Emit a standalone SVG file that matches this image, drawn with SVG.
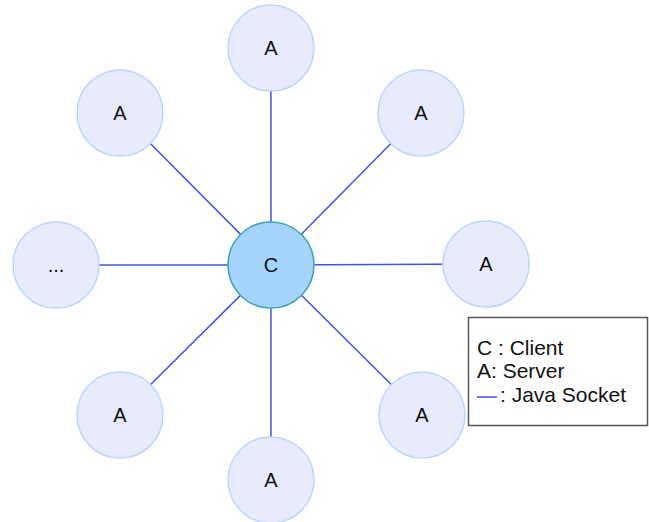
<svg xmlns="http://www.w3.org/2000/svg" width="649" height="522" viewBox="0 0 649 522">
<style>
.conn{stroke:#3a55ee;stroke-width:1.5;fill:none}
.outer{fill:#e8ebfc;stroke:#bcd6fb;stroke-width:1.5}
.center{fill:#a6d3fb;stroke:#3aa6ad;stroke-width:1.5}
.lbl{font-family:"Liberation Sans",Arial,sans-serif;font-size:20px;fill:#111;text-anchor:middle}
.leg{font-family:"Liberation Sans",Arial,sans-serif;font-size:21px;fill:#111}
</style>
<rect width="649" height="522" fill="#fff"/>
<g id="connectors">
<line class="conn" x1="271" y1="265" x2="271" y2="48"/>
<line class="conn" x1="271" y1="265" x2="120" y2="113"/>
<line class="conn" x1="271" y1="265" x2="421" y2="113"/>
<line class="conn" x1="271" y1="265" x2="56" y2="265"/>
<line class="conn" x1="271" y1="265" x2="486" y2="264"/>
<line class="conn" x1="271" y1="265" x2="120" y2="415"/>
<line class="conn" x1="271" y1="265" x2="422" y2="415"/>
<line class="conn" x1="271" y1="265" x2="271" y2="480"/>
</g>
<g id="node-top"><circle class="outer" cx="271" cy="48" r="43"/><text class="lbl" x="271" y="55">A</text></g>
<g id="node-topleft"><circle class="outer" cx="120" cy="113" r="43"/><text class="lbl" x="120" y="120">A</text></g>
<g id="node-topright"><circle class="outer" cx="421" cy="113" r="43"/><text class="lbl" x="421" y="120">A</text></g>
<g id="node-left"><circle class="outer" cx="56" cy="265" r="43"/><text class="lbl" x="56" y="272">...</text></g>
<g id="node-right"><circle class="outer" cx="486" cy="264" r="43"/><text class="lbl" x="486" y="271">A</text></g>
<g id="node-bottomleft"><circle class="outer" cx="120" cy="415" r="43"/><text class="lbl" x="120" y="422">A</text></g>
<g id="node-bottomright"><circle class="outer" cx="422" cy="415" r="43"/><text class="lbl" x="422" y="422">A</text></g>
<g id="node-bottom"><circle class="outer" cx="271" cy="480" r="43"/><text class="lbl" x="271" y="487">A</text></g>
<g id="node-center"><circle class="center" cx="271" cy="265" r="43"/><text class="lbl" x="271" y="272">C</text></g>
<g id="legend">
<rect x="468.5" y="317.5" width="179" height="108" fill="#fff" stroke="#555" stroke-width="1.5"/>
<text class="leg" x="477" y="355">C : Client</text>
<text class="leg" x="477" y="378">A: Server</text>
<line x1="477" y1="397" x2="497" y2="397" stroke="#3a55ee" stroke-width="1.5"/>
<text class="leg" x="500" y="402">: Java Socket</text>
</g>
</svg>
